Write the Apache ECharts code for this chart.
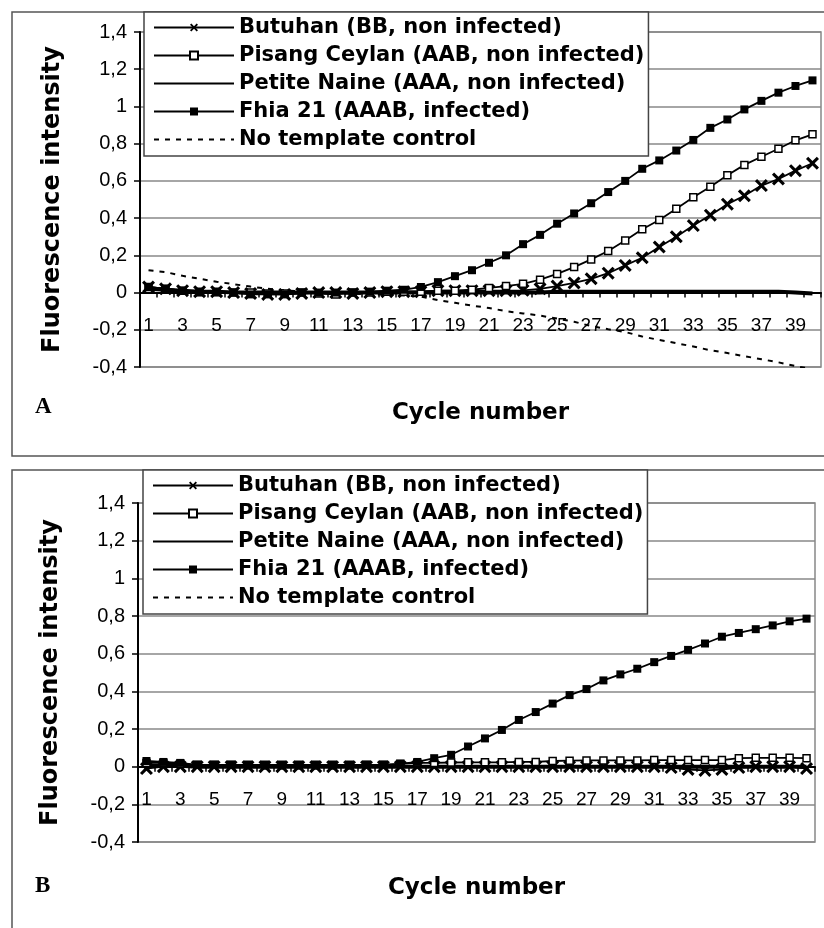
<!DOCTYPE html>
<html lang="en">
  <head>
    <meta charset="UTF-8" />
    <title>qPCR fluorescence</title>
    <style>
      html, body { margin: 0; padding: 0; background: #fff; }
      #pa { position: absolute; left: 0; top: 0; width: 824px; height: 464px; }
      #pb { position: absolute; left: 0; top: 464px; width: 824px; height: 464px; }
    </style>
  </head>
  <body>
    <div id="pa"></div>
    <div id="pb"></div>
    <script src="https://cdn.jsdelivr.net/npm/echarts@6/dist/echarts.min.js"></script>
    <script>
      // cycle labels
      const cycles = ["1","2","3","4","5","6","7","8","9","10","11","12","13","14","15","16","17","18","19","20",
        "21","22","23","24","25","26","27","28","29","30","31","32","33","34","35","36","37","38","39","40"];
      const names = [
        "Butuhan (BB, non infected)",
        "Pisang Ceylan (AAB, non infected)",
        "Petite Naine (AAA, non infected)",
        "Fhia 21 (AAAB, infected)",
        "No template control",
      ];
      const yMin = -0.4;
      const yMax = 1.4;

      // panel A
      const butuhanA = [0.03,0.02,0.01,0.005,0.005,0,-0.005,-0.01,-0.01,-0.005,0,0,-0.005,0,0.005,0.005,0.005,0.01,0.01,0.01,
        0.01,0.01,0.012,0.02,0.035,0.052,0.074,0.104,0.146,0.187,0.245,0.3,0.36,0.416,0.475,0.52,0.575,0.61,0.655,0.695];
      const pisangA = [0.03,0.02,0.01,0.005,0.005,0,0,-0.005,-0.005,0,-0.005,-0.01,0,0,0.005,0.005,0.005,0.01,0.01,0.015,
        0.025,0.035,0.047,0.069,0.1,0.137,0.178,0.223,0.28,0.34,0.39,0.45,0.512,0.568,0.63,0.686,0.73,0.773,0.818,0.85];
      const naineA = [0.02,0.015,0.01,0.005,0.005,0,0,0,0,0,0,0,0,0,0,0,0,0,0,0,
        0,0,0,0,0.005,0.005,0.005,0.005,0.005,0.005,0.005,0.005,0.005,0.005,0.005,0.005,0.005,0.005,0,-0.005];
      const fhiaA = [0.03,0.02,0.01,0,0,0,-0.01,-0.01,-0.01,0,0,0,0,0.005,0.01,0.015,0.03,0.056,0.088,0.12,
        0.16,0.2,0.26,0.31,0.37,0.425,0.48,0.54,0.6,0.665,0.71,0.763,0.82,0.885,0.93,0.984,1.03,1.074,1.11,1.14];
      const ntcA = [0.12,0.11,0.09,0.074,0.058,0.045,0.032,0.02,0.012,0.005,0,-0.003,-0.006,-0.01,-0.012,-0.016,-0.022,-0.04,-0.055,-0.07,
        -0.083,-0.1,-0.112,-0.124,-0.14,-0.157,-0.18,-0.197,-0.212,-0.236,-0.255,-0.272,-0.29,-0.31,-0.325,-0.342,-0.358,-0.375,-0.395,-0.412];

      // panel B
      const butuhanB = [-0.01,0,0,0,0,0,0,0,0,0,0,0,0,0,0,0,0,0,0,0,
        0,0,0,0,0,0,0,0,0,0,0,-0.005,-0.015,-0.02,-0.015,-0.005,0,0,0,-0.01];
      const pisangB = [0.02,0.02,0.015,0.01,0.01,0.01,0.01,0.01,0.01,0.01,0.01,0.01,0.01,0.01,0.01,0.015,0.02,0.02,0.022,0.023,
        0.023,0.023,0.025,0.025,0.03,0.032,0.033,0.033,0.033,0.033,0.035,0.035,0.035,0.035,0.035,0.045,0.047,0.047,0.047,0.045];
      const naineB = [0.005,0.005,0.005,0,0,0,0,0,0,0,0,0,0,0,0,0,0,0,0,0,
        0,0,0,0,0,0,0,0,0,0,0,0,0,0,0,0,0,0,0,0];
      const fhiaB = [0.03,0.025,0.02,0.01,0.01,0.01,0.005,0.005,0.005,0.005,0.005,0.005,0.005,0.01,0.01,0.015,0.025,0.045,0.063,0.107,
        0.15,0.195,0.248,0.29,0.335,0.38,0.412,0.458,0.49,0.52,0.555,0.588,0.62,0.654,0.69,0.71,0.73,0.75,0.772,0.786];
      const ntcB = [0.005,0.005,0,0,0,0,0,0,0,0,0,0,0,0,0,0,0,0,0,0,
        0,0,0,0,0,0,0,0,0,0,0,0,0,0,0,0,0,0,0,0];

      const crossPath = "path://M0,2L2,0L6,4L10,0L12,2L8,6L12,10L10,12L6,8L2,12L0,10L4,6Z";
      const bold = "DejaVu Sans";

      function fmt(v) {
        return String(Math.round(v * 10) / 10).replace(".", ",");
      }

      function makeOption(p) {
        // x axis sits on the zero line: shift it up from the plot bottom
        const zeroShift = -p.height * (0 - yMin) / (yMax - yMin);
        return {
          animation: false,
          graphic: [
            {
              type: "rect",
              shape: { x: 12, y: p.frameTop, width: 830, height: p.frameH },
              style: { fill: "none", stroke: "#555", lineWidth: 1.5 },
              z: 0,
            },
            {
              type: "text",
              left: 35,
              top: p.letterTop,
              style: { text: p.letter, font: "bold 23px 'Liberation Serif'", fill: "#000" },
            },
          ],
          legend: {
            orient: "vertical",
            left: p.legLeft,
            top: p.legTop,
            padding: [5, 4, 6, 9],
            itemWidth: 80,
            itemHeight: 10,
            itemGap: 7,
            backgroundColor: "#fff",
            borderColor: "#444",
            borderWidth: 1.5,
            borderRadius: 0,
            textStyle: { fontFamily: bold, fontWeight: "bold", fontSize: 21, lineHeight: 20, color: "#000" },
            data: [
              { name: names[0] },
              { name: names[1] },
              { name: names[2], itemStyle: { opacity: 0 } },
              { name: names[3] },
              { name: names[4], itemStyle: { opacity: 0 } },
            ],
            z: 10,
          },
          grid: {
            left: p.left,
            top: p.top,
            width: p.width,
            height: p.height,
            outerBoundsMode: "none",
            containLabel: false,
            show: true,
            borderColor: "#888",
            borderWidth: 1.5,
            backgroundColor: "#fff",
          },
          xAxis: {
            type: "category",
            data: cycles,
            boundaryGap: true,
            offset: zeroShift,
            name: "Cycle number",
            nameLocation: "middle",
            nameGap: p.xNameGap,
            nameTextStyle: { fontFamily: bold, fontWeight: "bold", fontSize: 23, color: "#000" },
            axisLine: { onZero: false, lineStyle: { color: "#000", width: 2 } },
            axisTick: { show: true, interval: 0, length: 5, lineStyle: { color: "#000", width: 1.5 } },
            axisLabel: {
              interval: 1,
              margin: 24,
              fontFamily: "Liberation Sans",
              fontSize: 19,
              color: "#000",
            },
            splitLine: { show: false },
          },
          yAxis: {
            type: "value",
            min: yMin,
            max: yMax,
            interval: 0.2,
            name: "Fluorescence intensity",
            nameLocation: "middle",
            nameGap: 75,
            nameTextStyle: { fontFamily: bold, fontWeight: "bold", fontSize: 24, color: "#000" },
            axisLine: { show: true, onZero: false, lineStyle: { color: "#000", width: 2 } },
            axisTick: { show: true, length: 6, lineStyle: { color: "#000", width: 1.5 } },
            axisLabel: {
              margin: 13,
              fontFamily: "Liberation Sans",
              fontSize: 20,
              color: "#000",
              formatter: fmt,
            },
            splitLine: { show: true, lineStyle: { color: "#888", width: 1.5 } },
          },
          series: [
            {
              name: names[0],
              type: "line",
              data: p.d[0],
              symbol: crossPath,
              symbolSize: 13,
              showAllSymbol: true,
              lineStyle: { color: "#000", width: 1.8 },
              itemStyle: { color: "#000" },
              z: 3,
            },
            {
              name: names[1],
              type: "line",
              data: p.d[1],
              symbol: "rect",
              symbolSize: 7,
              showAllSymbol: true,
              lineStyle: { color: "#000", width: 1.8 },
              itemStyle: { color: "#fff", borderColor: "#000", borderWidth: 1.5 },
              z: 3,
            },
            {
              name: names[2],
              type: "line",
              data: p.d[2],
              symbol: "none",
              lineStyle: { color: "#000", width: 4 },
              itemStyle: { color: "#000" },
              z: 2,
            },
            {
              name: names[3],
              type: "line",
              data: p.d[3],
              symbol: "rect",
              symbolSize: 8,
              showAllSymbol: true,
              lineStyle: { color: "#000", width: 1.8 },
              itemStyle: { color: "#000" },
              z: 3,
            },
            {
              name: names[4],
              type: "line",
              data: p.d[4],
              symbol: "none",
              lineStyle: { color: "#000", width: 2, type: [5, 6] },
              itemStyle: { color: "#000" },
              z: 2,
            },
          ],
        };
      }

      const chartA = echarts.init(document.getElementById("pa"));
      chartA.setOption(
        makeOption({
          frameTop: 12, frameH: 444, letter: "A", letterTop: 396,
          legLeft: 144, legTop: 12,
          left: 140, top: 32, width: 681, height: 335,
          xNameGap: 109,
          d: [butuhanA, pisangA, naineA, fhiaA, ntcA],
        })
      );

      const chartB = echarts.init(document.getElementById("pb"));
      chartB.setOption(
        makeOption({
          frameTop: 6, frameH: 500, letter: "B", letterTop: 411,
          legLeft: 143, legTop: 6,
          left: 138, top: 39, width: 677, height: 339,
          xNameGap: 110,
          d: [butuhanB, pisangB, naineB, fhiaB, ntcB],
        })
      );
    </script>
  </body>
</html>
